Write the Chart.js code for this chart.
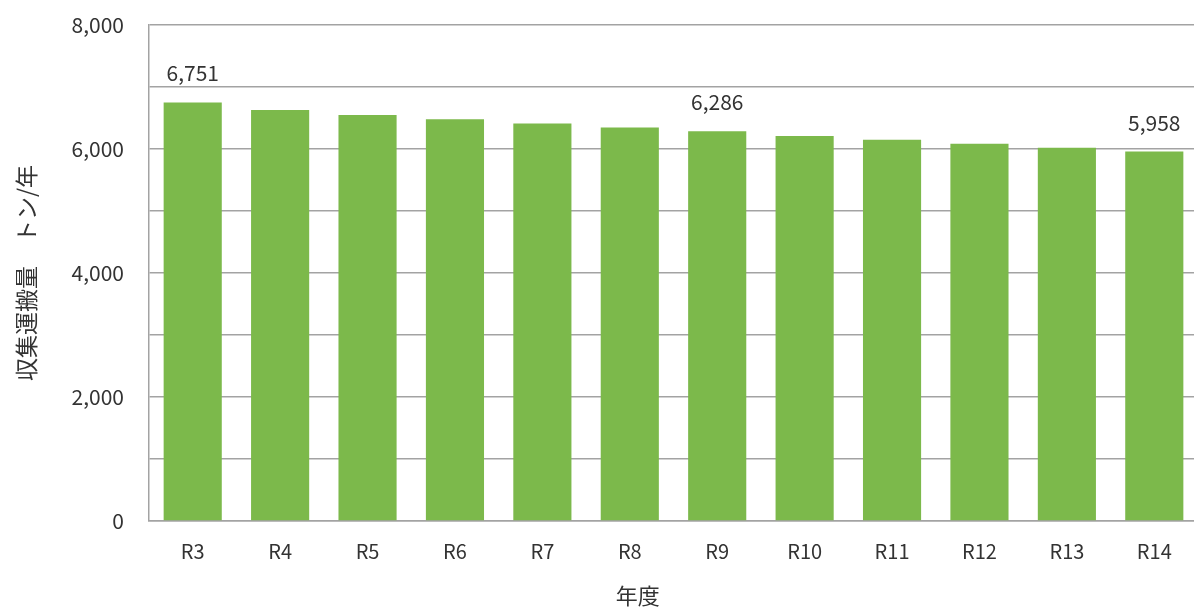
<!DOCTYPE html>
<html>
<head>
<meta charset="utf-8">
<script src="https://cdn.jsdelivr.net/npm/chart.js@4"></script>
<style>
html,body{margin:0;padding:0;background:#fff;overflow:hidden;width:1194px;height:608px;}
#wrap{width:1198px;height:608px;position:relative;}
</style>
</head>
<body>
<div id="wrap"><canvas id="c"></canvas></div>
<script>
const categories = ['R3','R4','R5','R6','R7','R8','R9','R10','R11','R12','R13','R14'];
const values = [6751, 6630, 6550, 6478, 6412, 6345, 6286, 6210, 6148, 6085, 6020, 5958];
const labeledIndices = [0, 6, 11];
const yTickLabels = [0, 2000, 4000, 6000, 8000];
const yTitle = '収集運搬量　トン/年';
const xTitle = '年度';

const FONT = "'Noto Sans CJK JP', 'Noto Sans', sans-serif";
const TEXT = '#333333';
const GRID = '#a3a3a3';
const fmt = v => v.toLocaleString('en-US');

const labelPlugin = {
  id: 'valueLabels',
  afterDatasetsDraw(chart) {
    const ctx = chart.ctx;
    const meta = chart.getDatasetMeta(0);
    ctx.save();
    ctx.font = '21px ' + FONT;
    ctx.fillStyle = TEXT;
    ctx.textAlign = 'center';
    ctx.textBaseline = 'alphabetic';
    labeledIndices.forEach(i => {
      const el = meta.data[i];
      ctx.fillText(fmt(values[i]), el.x, el.y - 21);
    });
    ctx.restore();
  }
};

const xTitlePlugin = {
  id: 'xTitle',
  afterDraw(chart) {
    const ctx = chart.ctx;
    const a = chart.chartArea;
    ctx.save();
    ctx.font = '22px ' + FONT;
    ctx.fillStyle = TEXT;
    ctx.textAlign = 'center';
    ctx.textBaseline = 'middle';
    ctx.fillText(xTitle, a.left + (a.right - a.left) * 0.466, a.bottom + 75);
    ctx.restore();
  }
};

new Chart(document.getElementById('c'), {
  type: 'bar',
  data: {
    labels: categories,
    datasets: [{
      data: values,
      backgroundColor: '#7cb94b',
      borderWidth: 0,
      barPercentage: 0.665,
      categoryPercentage: 1.0
    }]
  },
  options: {
    responsive: true,
    maintainAspectRatio: false,
    animation: false,
    layout: { padding: { top: 25, right: 0, bottom: 0, left: 0 } },
    plugins: { legend: { display: false }, tooltip: { enabled: false } },
    scales: {
      x: {
        grid: { display: false, drawTicks: false },
        border: { display: true, color: GRID, width: 1.5 },
        ticks: { color: TEXT, font: { family: FONT, size: 20 }, padding: 18, autoSkip: false, maxRotation: 0 },
        afterFit: s => { s.height = 87; }
      },
      y: {
        min: 0,
        max: 8000,
        grid: { color: GRID, lineWidth: 1.5, drawTicks: true, tickLength: 25, tickColor: 'rgba(0,0,0,0)' },
        border: { display: true, color: GRID, width: 1.5 },
        ticks: {
          stepSize: 1000,
          color: TEXT,
          font: { family: FONT, size: 21 },
          padding: 0,
          callback: v => yTickLabels.includes(v) ? fmt(v) : ''
        },
        title: {
          display: true,
          text: yTitle,
          color: TEXT,
          font: { family: FONT, size: 23 },
          padding: { top: 12, bottom: 0 }
        },
        afterFit: s => { s.width = 149; }
      }
    }
  },
  plugins: [labelPlugin, xTitlePlugin]
});
</script>
</body>
</html>
